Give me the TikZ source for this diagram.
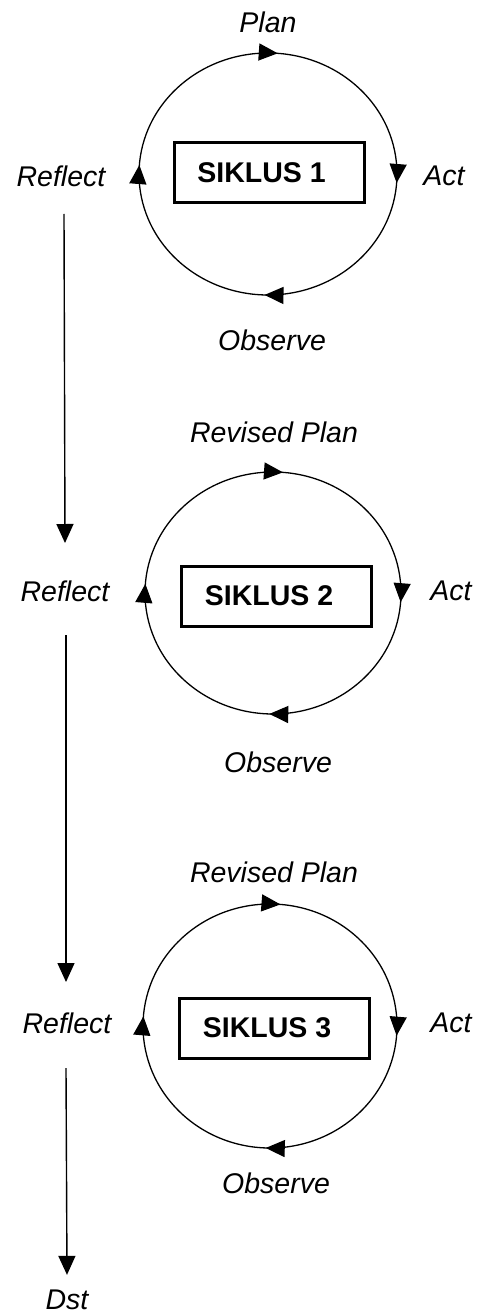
\documentclass[tikz,border=0pt]{standalone}
\usepackage{fontspec}
\setmainfont{Liberation Sans}
\usetikzlibrary{arrows.meta,decorations.markings}
\begin{document}
\begin{tikzpicture}[x=1pt,y=1pt,
  lbl/.style={inner sep=0pt, font=\fontsize{28.5}{30}\selectfont\itshape},
  cyclebox/.style={draw, line width=3pt, minimum width=190pt, minimum height=60pt, inner sep=0pt, font=\fontsize{28.5}{30}\selectfont\bfseries},
  vline/.style={line width=1.4pt, -{Triangle[length=19pt,width=17pt]}},
  ring/.style={line width=1.3pt, postaction={decorate}, decoration={markings,
    mark=at position 0.14 with {\arrow{Triangle[length=19pt,width=17pt]}},
    mark=at position 0.389 with {\arrow{Triangle[length=19pt,width=17pt]}},
    mark=at position 0.632 with {\arrow{Triangle[length=19pt,width=17pt]}},
    mark=at position 0.889 with {\arrow{Triangle[length=19pt,width=17pt]}}}}
]
\useasboundingbox (0,0) rectangle (479,-1313);

% ---- Cycle 1
\coordinate (o1) at (268,-174);
\draw[ring] (o1) ++(135:129 and 121) arc[start angle=135, end angle=-225, x radius=129, y radius=121];
\node[cyclebox] (box1) at (269,-173) {SIKLUS 1\hspace*{15pt}};
\node[lbl] (plan1) at (268,-22) {Plan};
\node[lbl] (act1) at (444,-176) {Act};
\node[lbl] (obs1) at (272,-340) {Observe};
\node[lbl] (refl1) at (61,-176) {Reflect};

% ---- Cycle 2
\coordinate (o2) at (273,-593);
\draw[ring] (o2) ++(135:128 and 121) arc[start angle=135, end angle=-225, x radius=128, y radius=121];
\node[cyclebox] (box2) at (276,-596) {SIKLUS 2\hspace*{14pt}};
\node[lbl] (plan2) at (274,-432) {Revised Plan};
\node[lbl] (act2) at (451,-591) {Act};
\node[lbl] (obs2) at (278,-762) {Observe};
\node[lbl] (refl2) at (65,-591) {Reflect};

% ---- Cycle 3
\coordinate (o3) at (270,-1026);
\draw[ring] (o3) ++(135:127 and 122) arc[start angle=135, end angle=-225, x radius=127, y radius=122];
\node[cyclebox] (box3) at (274,-1028) {SIKLUS 3\hspace*{14pt}};
\node[lbl] (plan3) at (274,-872) {Revised Plan};
\node[lbl] (act3) at (451,-1023) {Act};
\node[lbl] (obs3) at (276,-1183) {Observe};
\node[lbl] (refl3) at (67,-1023) {Reflect};

\node[lbl] (dst) at (67,-1300) {Dst};

% ---- connectors between reflect stages
\draw[vline] ([xshift=3pt,yshift=-38pt]refl1.center) -- ([xshift=-0pt,yshift=48pt]refl2.center);
\draw[vline] ([xshift=1pt,yshift=-44pt]refl2.center) -- ([xshift=-1pt,yshift=41pt]refl3.center);
\draw[vline] ([xshift=-1pt,yshift=-45pt]refl3.center) -- ([yshift=15pt]dst.north);
\end{tikzpicture}
\end{document}
